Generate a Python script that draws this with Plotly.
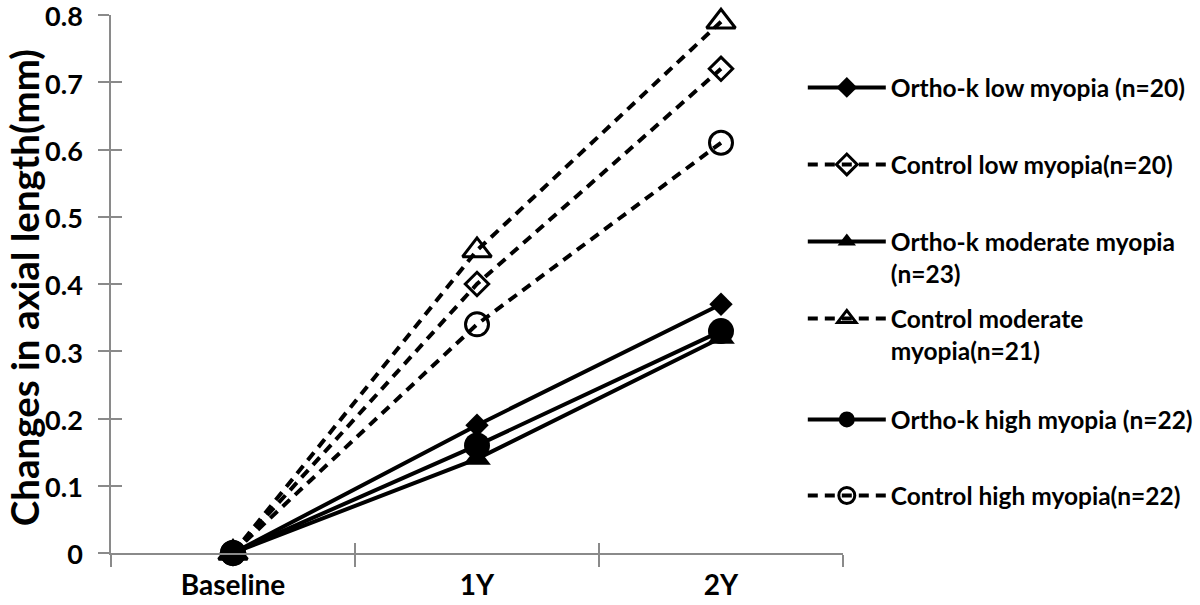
import plotly.graph_objects as go

categories = ["Baseline", "1Y", "2Y"]

orthok_low = [0, 0.19, 0.37]
control_low = [0, 0.40, 0.72]
orthok_moderate = [0, 0.14, 0.32]
control_moderate = [0, 0.45, 0.79]
orthok_high = [0, 0.16, 0.33]
control_high = [0, 0.34, 0.61]

names = [
    "Ortho-k low myopia (n=20)",
    "Control low myopia(n=20)",
    "Ortho-k moderate myopia<br>(n=23)",
    "Control moderate<br>myopia(n=21)",
    "Ortho-k high myopia (n=22)",
    "Control high myopia(n=22)",
]

y_ticks = [0, 0.1, 0.2, 0.3, 0.4, 0.5, 0.6, 0.7, 0.8]
y_ticklabels = ["0", "0.1", "0.2", "0.3", "0.4", "0.5", "0.6", "0.7", "0.8"]
y_title = "Changes in axial length(mm)"

FONT = "Lato"
AXIS_COLOR = "#8a8a8a"

# legend entry vertical positions (container fraction of the top of each box)
legend_tops = [1 - (t - 24) / 605 for t in (89, 166, 243, 320, 421, 497)]

series = [
    # (values, name, legend index, dash, symbol, size, marker line width)
    (control_low, names[1], 2, "10px,7px", "diamond-open", 18, 3),
    (control_moderate, names[3], 4, "10px,7px", "triangle-up-open", 25, 3),
    (control_high, names[5], 6, "10px,7px", "circle-open", 23, 3),
    (orthok_low, names[0], 1, "solid", "diamond", 18, 0),
    (orthok_moderate, names[2], 3, "solid", "triangle-up", 24, 0),
    (orthok_high, names[4], 5, "solid", "circle", 26, 0),
]

fig = go.Figure()
for vals, nm, li, dash, sym, size, mlw in series:
    fig.add_trace(go.Scatter(
        x=categories, y=vals, name=nm, mode="lines+markers",
        legend="legend" if li == 1 else f"legend{li}",
        line=dict(color="black", width=4, dash=dash),
        marker=dict(symbol=sym, size=size, color="black",
                    line=dict(color="black", width=mlw)),
        cliponaxis=False,
    ))

# invisible helper trace for the overlay axes (cross ticks)
fig.add_trace(go.Scatter(
    x=categories, y=orthok_low, xaxis="x2", yaxis="y2", mode="markers",
    marker=dict(opacity=0), showlegend=False, hoverinfo="skip",
))

fig.add_annotation(
    text=y_title, textangle=-90, xref="paper", yref="paper",
    x=-0.1189, y=0.494, xanchor="center", yanchor="middle", showarrow=False,
    font=dict(family=FONT, size=38.5, color="black", weight="bold"),
)

legend_style = dict(
    xref="container", yref="container",
    x=0.669, xanchor="left", yanchor="top",
    itemwidth=78, valign="top", maxheight=1,
    font=dict(family=FONT, size=24.5, color="black", weight="bold"),
    bgcolor="rgba(0,0,0,0)",
)
legends = {}
for i, top in enumerate(legend_tops, start=1):
    key = "legend" if i == 1 else f"legend{i}"
    legends[key] = dict(legend_style, y=top)

fig.update_layout(
    width=1200, height=605,
    margin=dict(l=111, r=357, t=15, b=52, autoexpand=False),
    paper_bgcolor="white", plot_bgcolor="white",
    font=dict(family=FONT, color="black"),
    showlegend=True,
    **legends,
    xaxis=dict(
        type="category", categoryarray=categories, range=[-0.5, 2.5],
        showline=True, linecolor=AXIS_COLOR, linewidth=1.5,
        ticks="outside", tickson="boundaries", ticklen=12,
        tickcolor=AXIS_COLOR, tickwidth=1.5, ticklabelstandoff=7,
        showgrid=False, zeroline=False, automargin=False,
        tickfont=dict(family=FONT, size=28, color="black", weight="bold"),
    ),
    yaxis=dict(
        range=[0, 0.8], tickvals=y_ticks, ticktext=y_ticklabels,
        showline=True, linecolor=AXIS_COLOR, linewidth=1.5,
        ticks="outside", ticklen=11, tickcolor=AXIS_COLOR, tickwidth=1.5,
        showgrid=False, zeroline=False, automargin=False,
        ticklabelstandoff=10, ticklabeloverflow="allow", ticklabelshift=2,
        tickfont=dict(family=FONT, size=27, color="black", weight="bold"),
    ),
    xaxis2=dict(
        type="category", categoryarray=categories, range=[-0.5, 2.5],
        overlaying="x", anchor="y2", side="bottom", automargin=False,
        ticks="inside", tickson="boundaries", ticklen=10,
        tickcolor=AXIS_COLOR, tickwidth=1.5, showticklabels=False,
        showgrid=False, zeroline=False, showline=False,
    ),
    yaxis2=dict(
        range=[0, 0.8], tickvals=y_ticks, ticktext=y_ticklabels,
        overlaying="y", anchor="x2",
        side="left", ticks="inside", ticklen=11, automargin=False,
        tickcolor=AXIS_COLOR, tickwidth=1.5, showticklabels=False,
        showgrid=False, zeroline=False, showline=False,
    ),
)

fig.write_html("out.html", config={"displayModeBar": False},
               post_script="document.body.style.margin='0';")
